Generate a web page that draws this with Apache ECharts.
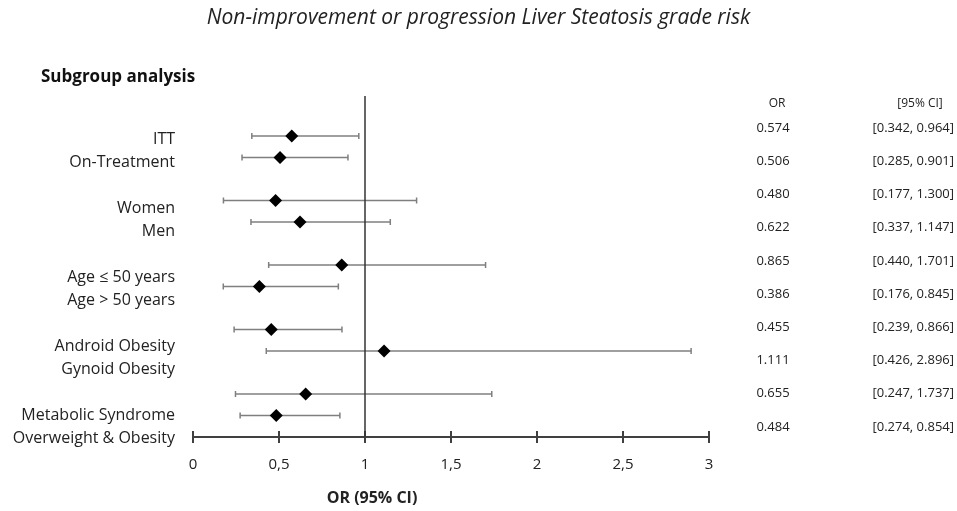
<!DOCTYPE html>
<html>
<head>
<meta charset="utf-8">
<script src="https://cdn.jsdelivr.net/npm/echarts@6/dist/echarts.min.js"></script>
<style>html,body{margin:0;padding:0;background:#fff}#c{width:957px;height:511px}</style>
</head>
<body>
<div id="c"></div>
<script>
var subgroups = ['ITT','On-Treatment','Women','Men','Age \u2264 50 years','Age > 50 years','Android Obesity','Gynoid Obesity','Metabolic Syndrome','Overweight & Obesity'];
var orValues = [0.574,0.506,0.480,0.622,0.865,0.386,0.455,1.111,0.655,0.484];
var ciLow = [0.342,0.285,0.177,0.337,0.440,0.176,0.239,0.426,0.247,0.274];
var ciHigh = [0.964,0.901,1.300,1.147,1.701,0.845,0.866,2.896,1.737,0.854];
var xTicks = ['0','0,5','1','1,5','2','2,5','3'];

var FONT = 'Open Sans';
// row index: pairs separated by a blank slot
function rowIdx(i){ return Math.floor(i/2)*3 + (i%2); }

var labelCats = [];
for (var g = 0; g < 5; g++) { labelCats.push(subgroups[g*2], subgroups[g*2+1], ''); }

var orText = orValues.map(function(v){ return v.toFixed(3); });
var ciText = ciLow.map(function(v,i){ return '[' + v.toFixed(3) + ', ' + ciHigh[i].toFixed(3) + ']'; });

var errData = orValues.map(function(v,i){ return [ciLow[i], ciHigh[i], rowIdx(i)]; });
var ptData = orValues.map(function(v,i){ return [v, rowIdx(i)]; });

var chart = echarts.init(document.getElementById('c'));
chart.setOption({
  animation: false,
  textStyle: { fontFamily: FONT },
  title: [
    { text: 'Non-improvement or progression Liver Steatosis grade risk', left: 'center', top: 3,
      textStyle: { fontFamily: FONT, fontStyle: 'italic', fontWeight: 'normal', fontSize: 21, color: '#222' } },
    { text: 'Subgroup analysis', left: 36, top: 64,
      textStyle: { fontFamily: FONT, fontWeight: 'bold', fontSize: 17, color: '#111' } },
    { text: 'OR (95% CI)', left: 367, textAlign: 'center', top: 485,
      textStyle: { fontFamily: FONT, fontWeight: 'bold', fontSize: 16, color: '#222' } },
    { text: 'OR', left: 772, textAlign: 'center', top: 93,
      textStyle: { fontFamily: FONT, fontWeight: 'normal', fontSize: 12, color: '#222' } },
    { text: '[95% CI]', left: 915, textAlign: 'center', top: 93,
      textStyle: { fontFamily: FONT, fontWeight: 'normal', fontSize: 12, color: '#222' } }
  ],
  grid: [
    { left: 193, right: 248, top: 96, bottom: 74 },
    { left: 193, width: 10, top: 139, height: 322 },
    { left: 773, width: 145, top: 128, height: 299 }
  ],
  xAxis: [
    { gridIndex: 0, type: 'value', min: 0, max: 3, interval: 0.5,
      axisLine: { show: true, onZero: false, lineStyle: { color: '#404040', width: 2 } },
      axisTick: { show: true, length: 6, lineStyle: { color: '#404040', width: 2 } },
      axisLabel: { margin: 20, fontSize: 15, color: '#222', fontFamily: FONT,
        formatter: function(v){ return xTicks[Math.round(v*2)]; } },
      splitLine: { show: false } },
    { gridIndex: 0, type: 'value', min: 0, max: 3, interval: 0.5, position: 'bottom', offset: 0,
      axisLine: { show: false, onZero: false },
      axisTick: { show: true, inside: true, length: 6, lineStyle: { color: '#404040', width: 2 } },
      axisLabel: { show: false }, splitLine: { show: false } },
    { gridIndex: 1, type: 'value', show: false },
    { gridIndex: 2, type: 'value', show: false, min: 0, max: 1 }
  ],
  yAxis: [
    { gridIndex: 0, type: 'value', min: -1.86, max: 14, inverse: true, show: false },
    { gridIndex: 1, type: 'category', data: labelCats, inverse: true, boundaryGap: false,
      axisLine: { show: false }, axisTick: { show: false },
      axisLabel: { interval: 0, margin: 18, fontSize: 16, color: '#222', fontFamily: FONT } },
    { gridIndex: 2, type: 'category', data: orText, inverse: true, boundaryGap: false, position: 'left',
      axisLine: { show: false }, axisTick: { show: false },
      axisLabel: { interval: 0, margin: 0, align: 'center', fontSize: 13, color: '#222', fontFamily: FONT } },
    { gridIndex: 2, type: 'category', data: ciText, inverse: true, boundaryGap: false, position: 'right',
      axisLine: { show: false }, axisTick: { show: false },
      axisLabel: { interval: 0, margin: 0, align: 'center', fontSize: 13, color: '#222', fontFamily: FONT } }
  ],
  series: [
    { type: 'custom', xAxisIndex: 0, yAxisIndex: 0, data: errData, silent: true,
      renderItem: function(params, api){
        var y = api.value(2);
        var a = api.coord([api.value(0), y]);
        var b = api.coord([api.value(1), y]);
        var st = { stroke: '#7f7f7f', lineWidth: 1.5 };
        return { type: 'group', children: [
          { type: 'line', shape: { x1: a[0], y1: a[1], x2: b[0], y2: b[1] }, style: st },
          { type: 'line', shape: { x1: a[0], y1: a[1]-3, x2: a[0], y2: a[1]+3 }, style: st },
          { type: 'line', shape: { x1: b[0], y1: b[1]-3, x2: b[0], y2: b[1]+3 }, style: st }
        ]};
      },
      markLine: { silent: true, symbol: 'none', label: { show: false },
        lineStyle: { color: '#333', width: 1.5, type: 'solid' },
        data: [{ xAxis: 1 }] }
    },
    { type: 'scatter', xAxisIndex: 0, yAxisIndex: 0, data: ptData, symbol: 'diamond', symbolSize: 13,
      itemStyle: { color: '#000', opacity: 1 }, z: 5 },
    { type: 'scatter', xAxisIndex: 3, yAxisIndex: 2, data: [] }
  ]
});
</script>
</body>
</html>
